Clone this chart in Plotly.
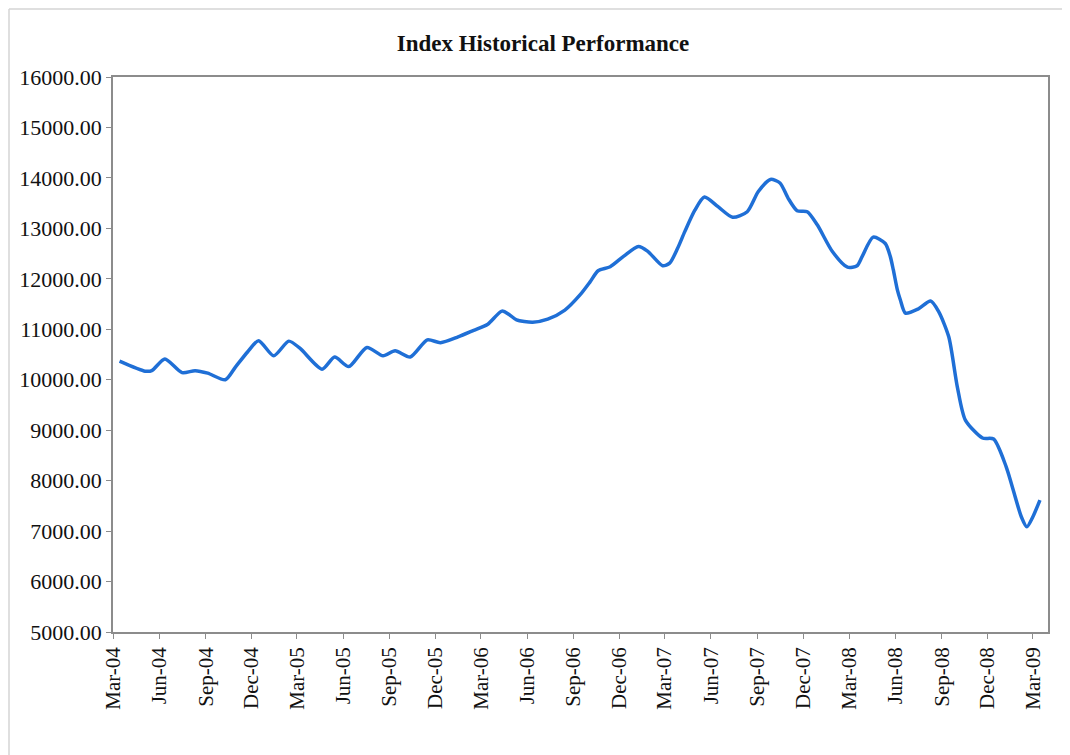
import plotly.graph_objects as go

dates = [
    "2004-03-14", "2004-05-04", "2004-05-17", "2004-06-12", "2004-07-16", "2004-08-11",
    "2004-09-05", "2004-10-10", "2004-10-30", "2004-11-23", "2004-12-15", "2005-01-14",
    "2005-02-13", "2005-03-07", "2005-04-20", "2005-05-15", "2005-06-12", "2005-07-18",
    "2005-08-19", "2005-09-12", "2005-10-12", "2005-11-15", "2005-12-11", "2006-01-15",
    "2006-02-15", "2006-03-15", "2006-04-12", "2006-04-28", "2006-05-11", "2006-06-12",
    "2006-07-12", "2006-08-15", "2006-09-14", "2006-10-04", "2006-10-20", "2006-11-13",
    "2006-12-10", "2007-01-08", "2007-01-26", "2007-02-25", "2007-03-11", "2007-03-27",
    "2007-04-10", "2007-04-30", "2007-05-19", "2007-06-15", "2007-07-14", "2007-08-12",
    "2007-09-03", "2007-09-27", "2007-10-16", "2007-11-01", "2007-11-19", "2007-12-09",
    "2007-12-29", "2008-01-28", "2008-02-27", "2008-03-17", "2008-03-27", "2008-04-18",
    "2008-05-12", "2008-05-22", "2008-05-28", "2008-06-05", "2008-06-11", "2008-06-21",
    "2008-07-16", "2008-08-10", "2008-08-26", "2008-09-15", "2008-10-02", "2008-10-18",
    "2008-11-21", "2008-12-13", "2009-01-07", "2009-02-06", "2009-02-17", "2009-03-01",
    "2009-03-15",
]
index_values = [
    10370, 10170, 10180, 10410, 10140, 10180,
    10130, 10000, 10250, 10550, 10775, 10475,
    10765, 10625, 10210, 10450, 10260, 10640,
    10475, 10575, 10450, 10790, 10735, 10850,
    10980, 11100, 11360, 11280, 11185, 11140,
    11200, 11380, 11680, 11940, 12160, 12240,
    12450, 12640, 12550, 12260, 12310, 12610,
    12935, 13360, 13620, 13430, 13220, 13330,
    13730, 13970, 13900, 13600, 13350, 13330,
    13070, 12540, 12230, 12260, 12440, 12825,
    12700, 12440, 12175, 11780, 11580, 11320,
    11400, 11560, 11350, 10850, 9860, 9200,
    8845, 8825, 8275, 7285, 7085, 7285,
    7615,
]

title_text = "Index Historical Performance"
y_ticks = [5000, 6000, 7000, 8000, 9000, 10000, 11000, 12000, 13000, 14000, 15000, 16000]

serif = "Liberation Serif, Times New Roman, serif"

W, H = 1062, 747
ML, MR, MT, MB = 105, 22, 69, 123
PW, PH = W - ML - MR, H - MT - MB

fig = go.Figure()
fig.add_trace(go.Scatter(
    x=dates, y=index_values, mode="lines",
    line=dict(color="#1f6fd6", width=3.5, shape="spline", smoothing=0.7),
    showlegend=False, hoverinfo="x+y",
))

fig.update_layout(
    width=W, height=H,
    margin=dict(l=ML, r=MR, t=MT, b=MB, autoexpand=False),
    paper_bgcolor="white", plot_bgcolor="white",
    title=dict(text="<b>" + title_text + "</b>", x=(543 - 8) / W, xanchor="center",
               y=1 - 35 / H, yanchor="middle",
               font=dict(family=serif, size=23, color="#111111")),
    font=dict(family=serif, color="#111111"),
    xaxis=dict(
        type="date", range=["2004-03-01", "2009-03-31"],
        tick0="2004-03-01", dtick="M3", tickformat="%b-%y",
        tickangle=-90, tickfont=dict(family=serif, size=21, color="#111111"),
        showgrid=False, zeroline=False,
        showline=True, linecolor="#8c8c8c", linewidth=1.5, mirror=True,
        ticks="outside", ticklen=5, tickcolor="#8c8c8c",
    ),
    yaxis=dict(
        range=[5000, 16000], tickvals=y_ticks,
        ticktext=[f"{v:.2f}" for v in y_ticks],
        tickfont=dict(family=serif, size=22, color="#111111"),
        showgrid=False, zeroline=False,
        showline=True, linecolor="#8c8c8c", linewidth=1.5, mirror=True,
        ticks="outside", ticklen=5, tickcolor="#8c8c8c",
    ),
    shapes=[
        dict(type="line", xref="paper", yref="paper",
             x0=-(ML - 1) / PW, x1=1 + MR / PW,
             y0=1 + (MT - 1) / PH, y1=1 + (MT - 1) / PH,
             line=dict(color="#d4d4d4", width=1.5)),
        dict(type="line", xref="paper", yref="paper",
             x0=-(ML - 1) / PW, x1=-(ML - 1) / PW,
             y0=1 + (MT - 1) / PH, y1=-MB / PH,
             line=dict(color="#d4d4d4", width=1.5)),
    ],
)

fig.write_html("out.html")
